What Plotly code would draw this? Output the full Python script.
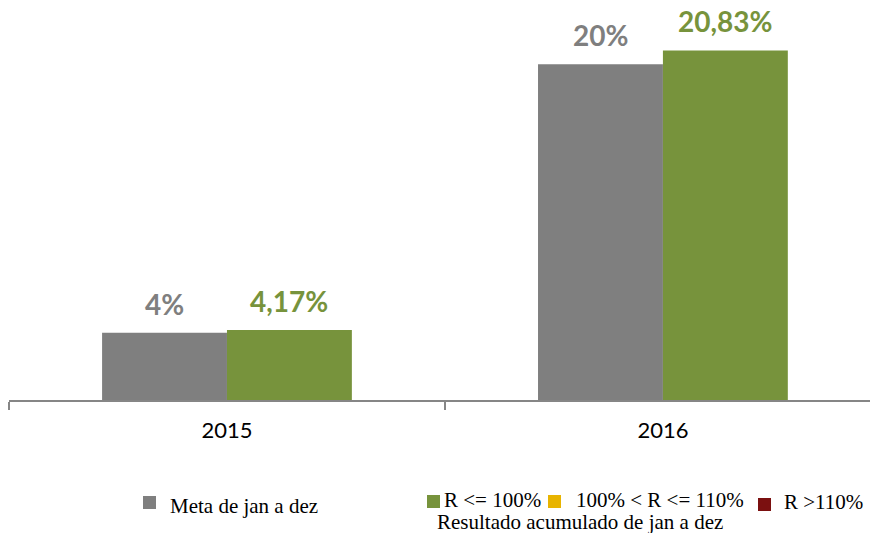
import plotly.graph_objects as go

# Dados
anos = ["2015", "2016"]
meta = [4, 20]
resultado = [4.17, 20.83]
meta_rotulos = ["4%", "20%"]
resultado_rotulos = ["4,17%", "20,83%"]

CINZA = "#7f7f7f"
VERDE = "#77933c"
AMARELO = "#e8b400"
VINHO = "#7b1010"

BARGAP = 0.427

W, H = 870, 533
L, R, T, B = 9, 0, 14, 533 - 400


# convert picture pixels to paper coords (for the custom legend)
def px_x(px):
    return (px - L) / (W - L - R)


def px_y(py):
    return (H - B - py) / (H - T - B)


fig = go.Figure()
fig.add_trace(go.Bar(x=anos, y=meta, name="Meta de jan a dez", marker_color=CINZA,
                     marker_line_width=0))
fig.add_trace(go.Bar(x=anos, y=resultado, name="R <= 100%", marker_color=VERDE,
                     marker_line_width=0))

# data labels above bars
off = (1 - BARGAP) / 4
anot = []
for i in range(len(anos)):
    anot.append(dict(x=i - off, y=meta[i], text=meta_rotulos[i], showarrow=False,
                     yanchor="bottom", yshift=10,
                     font=dict(family="Lato", size=28, color=CINZA, weight="bold")))
    anot.append(dict(x=i + off, y=resultado[i], text=resultado_rotulos[i], showarrow=False,
                     yanchor="bottom", yshift=10,
                     font=dict(family="Lato", size=28, color=VERDE, weight="bold")))

# legend (custom layout)
leg_font = dict(family="Liberation Serif", size=21, color="#000000")
legenda = [
    (168, 506, "Meta de jan a dez"),
    (442, 500, "R &lt;= 100%"),
    (574, 500, "100% &lt; R &lt;= 110%"),
    (782, 502, "R &gt;110%"),
    (435, 522, "Resultado acumulado de jan a dez"),
]
for x, y, t in legenda:
    anot.append(dict(xref="paper", yref="paper", x=px_x(x), y=px_y(y), text=t,
                     showarrow=False, xanchor="left", yanchor="middle", font=leg_font))

quadrados = [(143, 496, CINZA), (427, 495, VERDE), (548, 495, AMARELO), (758, 498, VINHO)]
shapes = []
for x, y, c in quadrados:
    shapes.append(dict(type="rect", xref="paper", yref="paper",
                       x0=px_x(x), x1=px_x(x + 13), y0=px_y(y + 13), y1=px_y(y),
                       fillcolor=c, line_width=0))

fig.update_layout(
    width=W, height=H,
    margin=dict(l=L, r=R, t=T, b=B),
    barmode="group", bargap=BARGAP, bargroupgap=0,
    plot_bgcolor="white", paper_bgcolor="white",
    showlegend=False,
    annotations=anot,
    shapes=shapes,
    xaxis=dict(range=[-0.5, 1.475], tickson="boundaries", ticks="outside", ticklen=8,
               tickcolor="#868686", tickwidth=2, showline=True, linecolor="#868686",
               linewidth=2, ticklabelstandoff=10,
               tickfont=dict(family="Lato", size=22, color="#000000")),
    yaxis=dict(range=[0, 23], visible=False, showgrid=False),
)

# drop the default 8px body margin so the figure fills the window
fig.write_html("out.html", config={"displayModeBar": False},
               post_script="document.body.style.margin = '0';")
